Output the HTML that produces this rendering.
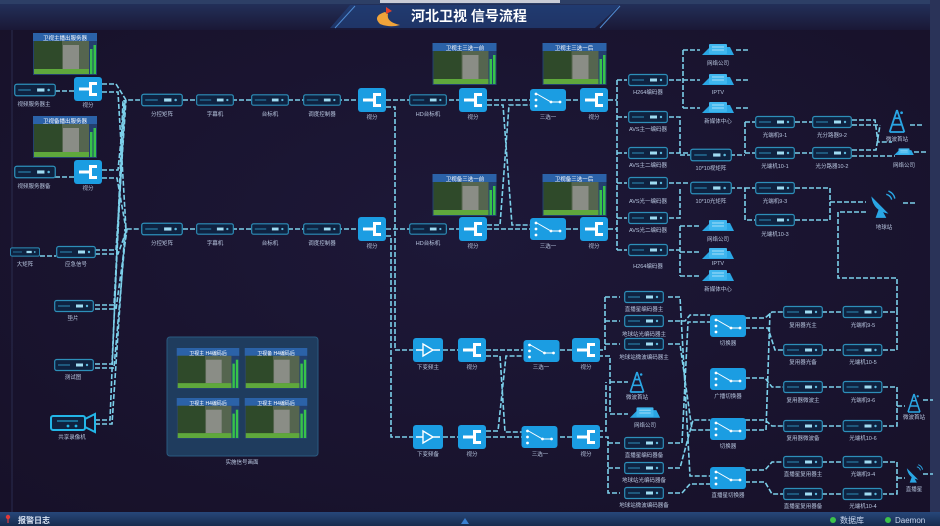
<!DOCTYPE html>
<html><head><meta charset="utf-8"><style>
html,body{margin:0;padding:0;width:940px;height:526px;overflow:hidden;background:#1a1430;}
svg{display:block}
text{font-family:"Liberation Sans","Noto Sans CJK SC",sans-serif;}
</style></head><body>
<svg width="940" height="526" viewBox="0 0 940 526" xmlns="http://www.w3.org/2000/svg">
<defs>
<radialGradient id="bg" cx="0.5" cy="0.45" r="0.7"><stop offset="0" stop-color="#1d1838"/><stop offset="1" stop-color="#171129"/></radialGradient>
<linearGradient id="hd" x1="0" y1="0" x2="0" y2="1"><stop offset="0" stop-color="#24335e"/><stop offset="1" stop-color="#1a1836"/></linearGradient>
<linearGradient id="bb" x1="0" y1="0" x2="0" y2="1"><stop offset="0" stop-color="#27477a"/><stop offset="1" stop-color="#172b4d"/></linearGradient>
<symbol id="dv" viewBox="0 0 40 14"><rect x="0.7" y="1.5" width="38.6" height="11" rx="2" fill="#0f2240" stroke="#2d8fb9" stroke-width="1.2"/><rect x="22" y="5.5" width="7" height="3" fill="#9fdcf2"/><line x1="4" y1="7" x2="16" y2="7" stroke="#2d8fb9"/><circle cx="33" cy="7" r="1.2" fill="#5bb8dc"/></symbol>
<symbol id="bs" viewBox="0 0 28 24"><rect x="0" y="0" width="28" height="24" rx="3" fill="#1b9de2"/><rect x="15" y="5" width="3" height="14" fill="#fff"/><rect x="15" y="5" width="8" height="3" fill="#fff"/><rect x="15" y="16" width="8" height="3" fill="#fff"/><rect x="5" y="10.5" width="11" height="3" fill="#fff"/></symbol>
<symbol id="sw" viewBox="0 0 36 22"><rect x="0" y="0" width="36" height="22" rx="3" fill="#1b9de2"/><g fill="#fff"><circle cx="6" cy="5" r="1.4"/><circle cx="6" cy="11" r="1.4"/><circle cx="6" cy="17" r="1.4"/><circle cx="21" cy="13" r="1.4"/><circle cx="30" cy="13" r="1.4"/></g><path d="M7 5 L21 13 L30 13" stroke="#fff" fill="none" stroke-width="1"/></symbol>
<symbol id="am" viewBox="0 0 30 24"><rect x="0" y="0" width="30" height="24" rx="3" fill="#1b9de2"/><path d="M10 6 L20 12 L10 18 Z M3 12 H10 M20 12 H27" stroke="#fff" fill="none" stroke-width="1.4"/></symbol>
<symbol id="th" viewBox="0 0 64 42"><rect x="0" y="0" width="64" height="42" fill="#23406e"/><rect x="0" y="0" width="64" height="8" fill="#2b62a8"/><rect x="1" y="8" width="55" height="33" fill="#55654f"/><rect x="1" y="8" width="28" height="30" fill="#2f4a2a"/><rect x="30" y="12" width="16" height="24" fill="#8a8d86"/><rect x="1" y="36" width="55" height="5" fill="#5fa83c"/><rect x="57" y="16" width="2.5" height="25" fill="#37c34a"/><rect x="60.5" y="12" width="2.5" height="29" fill="#37c34a"/></symbol>
<symbol id="cl" viewBox="0 0 36 16"><path d="M2 13 L10 5 L30 5 L34 13 Z" fill="#2aa6e4"/><rect x="9" y="2" width="18" height="10" rx="1" fill="#3fb6ee"/><g stroke="#bfe8fb" stroke-width="0.8"><line x1="12" y1="5" x2="24" y2="5"/><line x1="12" y1="8" x2="24" y2="8"/></g></symbol>
<symbol id="tw" viewBox="0 0 24 28"><path d="M12 2 L4 26 M12 2 L20 26 M7 18 H17 M9 11 H15 M4 26 H20" stroke="#2aa6e4" stroke-width="2" fill="none"/><circle cx="17" cy="5" r="1.5" fill="#2aa6e4"/></symbol>
<symbol id="ds" viewBox="0 0 28 28"><path d="M4 6 Q6 20 20 22 Z" fill="#2aa6e4"/><path d="M12 15 L8 26 H18 Z" fill="#2aa6e4"/><path d="M18 4 Q22 5 23 9 M20 1 Q25 3 26 8" stroke="#2aa6e4" fill="none" stroke-width="1.3"/></symbol>
</defs>
<rect width="940" height="526" fill="url(#bg)"/>
<!-- header -->
<rect x="0" y="0" width="940" height="30" fill="url(#hd)"/>
<rect x="0" y="0" width="940" height="4" fill="#2d3f66"/>
<rect x="380" y="0" width="180" height="3" fill="#c9ccd6"/>
<path d="M330 28 L350 5 L620 5 L595 28 Z" fill="#21407a" opacity="0.7"/>
<path d="M335 28 L355 6 M600 28 L620 6" stroke="#4f8ad0" stroke-width="1"/>
<rect x="930" y="0" width="10" height="526" fill="#2a3358"/>
<line x1="12" y1="30" x2="12" y2="512" stroke="#2a2c4e"/>
<path d="M385 12 Q372 16 380 24 Q390 28 400 25 Q386 22 388 14 Z" fill="#f0a43a"/><path d="M386 7 L392 11 L386 14 Z" fill="#e5402a"/>
<text x="411" y="21" font-size="14" font-weight="bold" fill="#fff">河北卫视 信号流程</text>

<!-- connectors -->
<g stroke="#7cd0ea" stroke-width="1.6" fill="none" stroke-dasharray="5 2">
<path d="M55 91 H78 M55 177 H78 M40 256 H56"/>
<path d="M102 84 H116 L126 100 H140 M102 92 H118 L126 229 H140"/>
<path d="M102 170 H118 L125 100 M102 178 H117 L126 229"/>
<path d="M95 250 H116 L126 100 M95 254 H118 L127 229"/>
<path d="M95 305 H114 L125 100 M95 309 H116 L127 229"/>
<path d="M95 364 H112 L124 100 M95 368 H114 L126 229"/>
<path d="M95 420 H110 L123 100 M95 424 H112 L125 229"/>
<path d="M183 100 H360 M183 229 H360 M386 100 H460 M386 229 H460"/>
<path d="M487 100 H530 M487 229 H530 M487 105 H503 L512 225 H530 M487 225 H500 L509 105 H530 M566 100 H582 M566 229 H582"/>
<path d="M386 107 H395 V350 H413 M386 236 H391 V437 H413"/>
<path d="M608 100 H617 M608 229 H617 M617 80 V250 M617 80 H627 M617 117 H627 M617 153 H627 M617 183 H627 M617 218 H627 M617 250 H627"/>
<path d="M669 80 H700 M683 50 V108 M683 50 H700 M683 108 H700 M736 50 H748 M736 80 H748 M736 108 H748"/>
<path d="M669 117 H680 V155 H690 M669 153 H690 M730 155 H745 M745 122 V153 M745 122 H755 M745 153 H755"/>
<path d="M795 122 H812 M795 153 H812 M852 120 H875 L878 142 H892 M852 125 H880 M852 150 H876 L880 125 M852 156 H895 M910 125 H922 M914 152 H926"/>
<path d="M669 183 H690 M669 218 H680 V188 M730 188 H745 V220 H755 M745 188 H755 M795 188 H830 V202 H866 M795 220 H830 V202 M903 203 H915"/>
<path d="M669 250 H680 M680 226 V276 M680 226 H700 M680 276 H700 M680 252 H700"/>
<path d="M883 312 H897 V278 H838 V212 H866 M883 350 H897 V312"/>
<path d="M443 350 H460 M486 350 H523 M443 437 H460 M486 437 H523 M486 356 H500 L505 432 H523 M486 431 H498 L506 356 H523 M560 350 H572 M560 437 H572"/>
<path d="M598 350 H605 M605 297 V350 M605 297 H620 M605 321 H620 M605 344 H620 M598 356 H610 V414 H628 M610 382 H628 M598 431 H606 V382 M598 437 H608 V493 H620 M608 443 H620 M608 468 H620"/>
<path d="M668 297 H680 L690 476 H710 M668 321 H685 L690 315 H710 M668 344 H680 L692 430 H710 M668 443 H682 L688 322 H710 M668 468 H680 L693 420 H710 M668 493 H682 L690 484 H710"/>
<path d="M745 318 H765 L772 312 H783 M745 328 H768 L775 350 H783 M745 378 H765 L772 387 H783 M745 420 H765 L772 426 H783 M745 430 H766 L770 312 M745 470 H765 L772 462 H783 M745 482 H765 L772 494 H783"/>
<path d="M822 312 H842 M822 350 H842 M822 387 H842 M822 426 H842 M822 462 H842 M822 494 H842"/>
<path d="M883 387 H897 V426 H883 M897 406 H905 M923 400 H933 M883 462 H897 V494 H883 M897 478 H905 M923 474 H933"/>
</g>

<!-- left section -->
<use href="#th" x="33" y="33" width="64" height="42"/><text x="65" y="40" font-size="5.5" fill="#fff" text-anchor="middle">卫视主播出服务器</text>
<use href="#th" x="33" y="116" width="64" height="42"/><text x="65" y="123" font-size="5.5" fill="#fff" text-anchor="middle">卫视备播出服务器</text>
<use href="#dv" x="14" y="82" width="42" height="16"/><text x="34" y="106" font-size="5.5" fill="#b9c7e0" text-anchor="middle">视频服务器主</text>
<use href="#bs" x="74" y="77" width="28" height="24"/><text x="88" y="107" font-size="5.5" fill="#b9c7e0" text-anchor="middle">视分</text>
<use href="#dv" x="14" y="164" width="42" height="16"/><text x="34" y="188" font-size="5.5" fill="#b9c7e0" text-anchor="middle">视频服务器备</text>
<use href="#bs" x="74" y="160" width="28" height="24"/><text x="88" y="190" font-size="5.5" fill="#b9c7e0" text-anchor="middle">视分</text>
<use href="#dv" x="10" y="245" width="30" height="14"/><text x="25" y="266" font-size="5.5" fill="#b9c7e0" text-anchor="middle">大矩阵</text>
<use href="#dv" x="56" y="245" width="40" height="14"/><text x="76" y="266" font-size="5.5" fill="#b9c7e0" text-anchor="middle">应急信号</text>
<use href="#dv" x="52" y="299" width="44" height="14"/><text x="73" y="320" font-size="5.5" fill="#b9c7e0" text-anchor="middle">垫片</text>
<use href="#dv" x="52" y="358" width="44" height="14"/><text x="73" y="379" font-size="5.5" fill="#b9c7e0" text-anchor="middle">测试图</text>
<g><rect x="51" y="416" width="34" height="14" rx="2" fill="#0f2240" stroke="#23b6e8" stroke-width="2"/><path d="M85 419 L95 414 V432 L85 427" fill="none" stroke="#23b6e8" stroke-width="2"/><line x1="57" y1="421" x2="78" y2="421" stroke="#23b6e8"/><circle cx="68" cy="426" r="1.4" fill="#23b6e8"/><circle cx="76" cy="426" r="1.4" fill="#23b6e8"/></g>
<text x="72" y="439" font-size="5.5" fill="#b9c7e0" text-anchor="middle">共享录像机</text>

<!-- rows 1 & 2 -->
<g font-size="5.5" fill="#b9c7e0" text-anchor="middle">
<use href="#dv" x="141" y="92" width="42" height="16"/><text x="162" y="116">分控矩阵</text>
<use href="#dv" x="196" y="92" width="38" height="16"/><text x="215" y="116">字幕机</text>
<use href="#dv" x="251" y="92" width="38" height="16"/><text x="270" y="116">台标机</text>
<use href="#dv" x="303" y="92" width="38" height="16"/><text x="322" y="116">调度控制器</text>
<use href="#bs" x="358" y="88" width="28" height="24"/><text x="372" y="119">视分</text>
<use href="#dv" x="409" y="92" width="38" height="16"/><text x="428" y="116">HD台标机</text>
<use href="#bs" x="459" y="88" width="28" height="24"/><text x="473" y="119">视分</text>
<use href="#sw" x="530" y="89" width="36" height="22"/><text x="548" y="119">三选一</text>
<use href="#bs" x="580" y="88" width="28" height="24"/><text x="594" y="119">视分</text>

<use href="#dv" x="141" y="221" width="42" height="16"/><text x="162" y="245">分控矩阵</text>
<use href="#dv" x="196" y="221" width="38" height="16"/><text x="215" y="245">字幕机</text>
<use href="#dv" x="251" y="221" width="38" height="16"/><text x="270" y="245">台标机</text>
<use href="#dv" x="303" y="221" width="38" height="16"/><text x="322" y="245">调度控制器</text>
<use href="#bs" x="358" y="217" width="28" height="24"/><text x="372" y="248">视分</text>
<use href="#dv" x="409" y="221" width="38" height="16"/><text x="428" y="245">HD台标机</text>
<use href="#bs" x="459" y="217" width="28" height="24"/><text x="473" y="248">视分</text>
<use href="#sw" x="530" y="218" width="36" height="22"/><text x="548" y="248">三选一</text>
<use href="#bs" x="580" y="217" width="28" height="24"/><text x="594" y="248">视分</text>
</g>
<use href="#th" x="432" y="43" width="65" height="42"/><text x="465" y="50" font-size="5.5" fill="#fff" text-anchor="middle">卫视主三选一前</text>
<use href="#th" x="542" y="43" width="65" height="42"/><text x="574" y="50" font-size="5.5" fill="#fff" text-anchor="middle">卫视主三选一后</text>
<use href="#th" x="432" y="174" width="65" height="42"/><text x="465" y="181" font-size="5.5" fill="#fff" text-anchor="middle">卫视备三选一前</text>
<use href="#th" x="542" y="174" width="65" height="42"/><text x="574" y="181" font-size="5.5" fill="#fff" text-anchor="middle">卫视备三选一后</text>

<!-- right upper -->
<g font-size="5.5" fill="#b9c7e0" text-anchor="middle">
<use href="#dv" x="627" y="73" width="42" height="14"/><text x="648" y="94">H264编码器</text>
<use href="#dv" x="627" y="110" width="42" height="14"/><text x="648" y="131">AVS主一编码器</text>
<use href="#dv" x="627" y="146" width="42" height="14"/><text x="648" y="167">AVS主二编码器</text>
<use href="#dv" x="627" y="176" width="42" height="14"/><text x="648" y="203">AVS光一编码器</text>
<use href="#dv" x="627" y="211" width="42" height="14"/><text x="648" y="232">AVS光二编码器</text>
<use href="#dv" x="627" y="243" width="42" height="14"/><text x="648" y="268">H264编码器</text>
<use href="#cl" x="700" y="42" width="36" height="16"/><text x="718" y="65">网络公司</text>
<use href="#cl" x="700" y="72" width="36" height="16"/><text x="718" y="94">IPTV</text>
<use href="#cl" x="700" y="100" width="36" height="16"/><text x="718" y="123">新媒体中心</text>
<use href="#cl" x="700" y="218" width="36" height="16"/><text x="718" y="241">网络公司</text>
<use href="#cl" x="700" y="246" width="36" height="16"/><text x="718" y="265">IPTV</text>
<use href="#cl" x="700" y="268" width="36" height="16"/><text x="718" y="291">新媒体中心</text>
<use href="#dv" x="690" y="147" width="42" height="16"/><text x="711" y="170">10*10视矩阵</text>
<use href="#dv" x="690" y="180" width="42" height="16"/><text x="711" y="203">10*10光矩阵</text>
<use href="#dv" x="755" y="115" width="40" height="14"/><text x="775" y="137">光端机9-1</text>
<use href="#dv" x="812" y="115" width="40" height="14"/><text x="832" y="137">光分路器9-2</text>
<use href="#dv" x="755" y="146" width="40" height="14"/><text x="775" y="168">光端机10-1</text>
<use href="#dv" x="812" y="146" width="40" height="14"/><text x="832" y="168">光分路器10-2</text>
<use href="#dv" x="755" y="181" width="40" height="14"/><text x="775" y="203">光端机9-3</text>
<use href="#dv" x="755" y="213" width="40" height="14"/><text x="775" y="236">光端机10-3</text>
<use href="#tw" x="886" y="108" width="22" height="26"/><text x="897" y="141">微波首站</text>
<use href="#cl" x="893" y="146" width="22" height="12"/><text x="904" y="167">网络公司</text>
<use href="#ds" x="866" y="190" width="32" height="30"/><text x="884" y="229">地球站</text>

<!-- lower -->
<use href="#am" x="413" y="338" width="30" height="24"/><text x="428" y="369">下变频主</text>
<use href="#bs" x="458" y="338" width="28" height="24"/><text x="472" y="369">视分</text>
<use href="#sw" x="523" y="340" width="37" height="22"/><text x="541" y="369">三选一</text>
<use href="#bs" x="572" y="338" width="28" height="24"/><text x="586" y="369">视分</text>
<use href="#am" x="413" y="425" width="30" height="24"/><text x="428" y="456">下变频备</text>
<use href="#bs" x="458" y="425" width="28" height="24"/><text x="472" y="456">视分</text>
<use href="#sw" x="521" y="426" width="37" height="22"/><text x="540" y="456">三选一</text>
<use href="#bs" x="572" y="425" width="28" height="24"/><text x="586" y="456">视分</text>
<use href="#dv" x="620" y="290" width="48" height="14"/><text x="644" y="311">直播星编码器主</text>
<use href="#dv" x="620" y="314" width="48" height="14"/><text x="644" y="336">地球站光编码器主</text>
<use href="#dv" x="620" y="337" width="48" height="14"/><text x="644" y="359">地球站微波编码器主</text>
<use href="#tw" x="627" y="370" width="20" height="24"/><text x="637" y="399">微波首站</text>
<use href="#cl" x="628" y="405" width="34" height="16"/><text x="645" y="427">网络公司</text>
<use href="#dv" x="620" y="436" width="48" height="14"/><text x="644" y="457">直播星编码器备</text>
<use href="#dv" x="620" y="461" width="48" height="14"/><text x="644" y="482">地球站光编码器备</text>
<use href="#dv" x="620" y="486" width="48" height="14"/><text x="644" y="507">地球站微波编码器备</text>
<use href="#sw" x="710" y="315" width="36" height="22"/><text x="728" y="345">切换器</text>
<use href="#sw" x="710" y="368" width="36" height="22"/><text x="728" y="398">广播切换器</text>
<use href="#sw" x="710" y="418" width="36" height="22"/><text x="728" y="448">切换器</text>
<use href="#sw" x="710" y="467" width="36" height="22"/><text x="728" y="497">直播星切换器</text>
<use href="#dv" x="783" y="305" width="40" height="14"/><text x="803" y="327">复用器光主</text>
<use href="#dv" x="783" y="343" width="40" height="14"/><text x="803" y="364">复用器光备</text>
<use href="#dv" x="783" y="380" width="40" height="14"/><text x="803" y="402">复用器微波主</text>
<use href="#dv" x="783" y="419" width="40" height="14"/><text x="803" y="440">复用器微波备</text>
<use href="#dv" x="783" y="455" width="40" height="14"/><text x="803" y="476">直播星复用器主</text>
<use href="#dv" x="783" y="487" width="40" height="14"/><text x="803" y="508">直播星复用器备</text>
<use href="#dv" x="842" y="305" width="41" height="14"/><text x="863" y="327">光端机9-5</text>
<use href="#dv" x="842" y="343" width="41" height="14"/><text x="863" y="364">光端机10-5</text>
<use href="#dv" x="842" y="380" width="41" height="14"/><text x="863" y="402">光端机9-6</text>
<use href="#dv" x="842" y="419" width="41" height="14"/><text x="863" y="440">光端机10-6</text>
<use href="#dv" x="842" y="455" width="41" height="14"/><text x="863" y="476">光端机9-4</text>
<use href="#dv" x="842" y="487" width="41" height="14"/><text x="863" y="508">光端机10-4</text>
<use href="#tw" x="905" y="392" width="18" height="22"/><text x="914" y="419">微波首站</text>
<use href="#ds" x="904" y="464" width="20" height="20"/><text x="914" y="491">直播星</text>
</g>

<!-- monitor panel -->
<rect x="167" y="337" width="151" height="119" rx="3" fill="#1f3c5e" stroke="#2a5a80"/>
<use href="#th" x="176" y="348" width="64" height="41"/><text x="208" y="355" font-size="5" fill="#fff" text-anchor="middle">卫视主 H4编码后</text>
<use href="#th" x="244" y="348" width="64" height="41"/><text x="276" y="355" font-size="5" fill="#fff" text-anchor="middle">卫视备 H4编码后</text>
<use href="#th" x="176" y="398" width="64" height="41"/><text x="208" y="405" font-size="5" fill="#fff" text-anchor="middle">卫视主 H4编码后</text>
<use href="#th" x="244" y="398" width="64" height="41"/><text x="276" y="405" font-size="5" fill="#fff" text-anchor="middle">卫视主 H4编码后</text>
<text x="242" y="464" font-size="5.5" fill="#b9c7e0" text-anchor="middle">实施信号画面</text>

<!-- bottom bar -->
<rect x="0" y="512" width="940" height="14" fill="url(#bb)"/>
<circle cx="8" cy="517" r="2.2" fill="#e03a3a"/><line x1="8" y1="518" x2="8" y2="523" stroke="#e03a3a" stroke-width="1.2"/>
<text x="18" y="523" font-size="8" font-weight="bold" fill="#d8e2f2">报警日志</text>
<path d="M461 524 L465 518 L469 524 Z" fill="#3a7fd0"/>
<circle cx="833" cy="520" r="3" fill="#3cc24a"/><text x="840" y="523" font-size="8" fill="#c9d6ee">数据库</text>
<circle cx="888" cy="520" r="3" fill="#3cc24a"/><text x="895" y="523" font-size="8" fill="#c9d6ee">Daemon</text>
</svg>
</body></html>
